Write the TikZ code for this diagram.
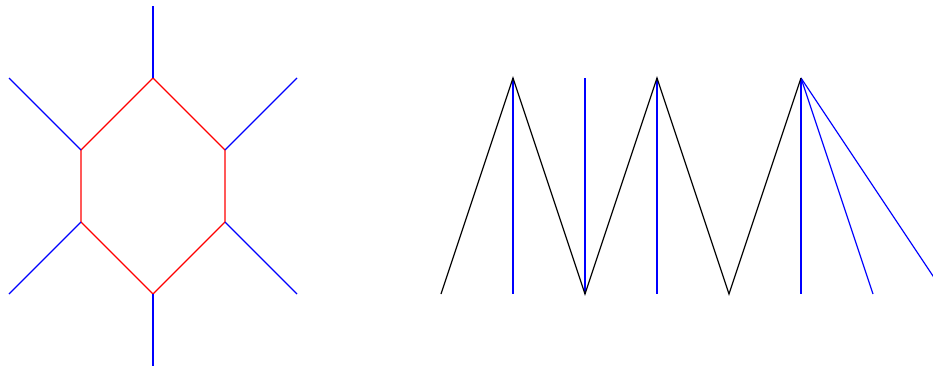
\documentclass[tikz,border=0pt]{standalone}
\begin{document}
\begin{tikzpicture}[x=1pt,y=-1pt,
  hexedge/.style={red, line width=1.2pt},
  leg/.style={blue, line width=1.2pt},
  zig/.style={black, line width=1.2pt, line join=miter}]
\useasboundingbox (0,0) rectangle (933,367);
\clip (0,0) rectangle (933,367);
% hexagon vertices
\coordinate (ht) at (153,78);
\coordinate (hul) at (81,150);
\coordinate (hll) at (81,222);
\coordinate (hb) at (153,294);
\coordinate (hlr) at (225,222);
\coordinate (hur) at (225,150);
% outer ends
\coordinate (et) at (153,6);
\coordinate (eul) at (9,78);
\coordinate (ell) at (9,294);
\coordinate (eb) at (153,366);
\coordinate (elr) at (297,294);
\coordinate (eur) at (297,78);
\draw[hexedge] (ht) -- (hul) -- (hll) -- (hb) -- (hlr) -- (hur) -- cycle;
\draw[leg] (ht) -- (et);
\draw[leg] (hul) -- (eul);
\draw[leg] (hll) -- (ell);
\draw[leg] (hb) -- (eb);
\draw[leg] (hlr) -- (elr);
\draw[leg] (hur) -- (eur);
% zigzag
\coordinate (z0) at (441,294);
\coordinate (z1) at (513,78);
\coordinate (z2) at (585,294);
\coordinate (z3) at (657,78);
\coordinate (z4) at (729,294);
\coordinate (z5) at (801,78);
\coordinate (b1) at (513,294);
\coordinate (t2) at (585,78);
\coordinate (b3) at (657,294);
\coordinate (b5) at (801,294);
\coordinate (b6) at (873,294);
\coordinate (b7) at (945,294);
\draw[leg] (z1) -- (b1);
\draw[leg] (t2) -- (z2);
\draw[leg] (z3) -- (b3);
\draw[leg] (z5) -- (b5);
\draw[leg] (z5) -- (b6);
\draw[leg] (z5) -- (b7);
\draw[zig] (z0) -- (z1) -- (z2) -- (z3) -- (z4) -- (z5);
\end{tikzpicture}
\end{document}
